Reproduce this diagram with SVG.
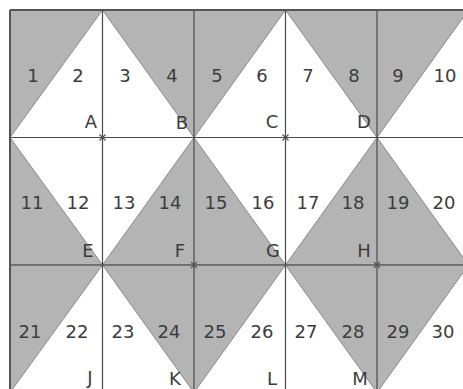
<svg xmlns="http://www.w3.org/2000/svg" width="463" height="389" viewBox="0 0 463 389">
<style>
.sh{fill:#b4b4b4;stroke:#8a8a8a;stroke-width:1}
.gl{stroke:#4a4a4a;stroke-width:1.2;fill:none}
.fr{stroke:#555;stroke-width:2;fill:none}
.n{font-family:"DejaVu Sans",sans-serif;font-size:18px;fill:#3c3c3c;text-anchor:middle}
.mk{stroke:#555;stroke-width:1.2}
</style>
<rect width="463" height="389" fill="#fff"/>
<g id="shading">
<polygon class="sh" points="10,10 102.5,10 10,137.5"/>
<polygon class="sh" points="102.5,10 285.5,10 194,137.5"/>
<polygon class="sh" points="285.5,10 468.5,10 377,137.5"/>
<polygon class="sh" points="10,137.5 102.5,265 10,265"/>
<polygon class="sh" points="194,137.5 102.5,265 285.5,265"/>
<polygon class="sh" points="377,137.5 285.5,265 468.5,265"/>
<polygon class="sh" points="10,265 102.5,265 10,392.5"/>
<polygon class="sh" points="102.5,265 285.5,265 194,392.5"/>
<polygon class="sh" points="285.5,265 468.5,265 377,392.5"/>
</g>
<g id="grid">
<line class="gl" x1="102.5" y1="10" x2="102.5" y2="392"/>
<line class="gl" x1="194" y1="10" x2="194" y2="392"/>
<line class="gl" x1="285.5" y1="10" x2="285.5" y2="392"/>
<line class="gl" x1="377" y1="10" x2="377" y2="392"/>
<line class="gl" x1="10" y1="137.5" x2="463" y2="137.5"/>
<line class="gl" x1="10" y1="265" x2="463" y2="265"/>
<line class="fr" x1="10" y1="10" x2="463" y2="10"/>
<line class="fr" x1="10" y1="10" x2="10" y2="392"/>
</g>
<g id="marks">
<path class="mk" d="M99.5,134.5 l6,6 M105.5,134.5 l-6,6"/>
<path class="mk" d="M282.5,134.5 l6,6 M288.5,134.5 l-6,6"/>
<path class="mk" d="M191,262 l6,6 M197,262 l-6,6"/>
<path class="mk" d="M374,262 l6,6 M380,262 l-6,6"/>
</g>
<g id="numbers">
<text class="n" x="33" y="82">1</text>
<text class="n" x="78" y="82">2</text>
<text class="n" x="125" y="82">3</text>
<text class="n" x="172" y="82">4</text>
<text class="n" x="217" y="82">5</text>
<text class="n" x="262" y="82">6</text>
<text class="n" x="308" y="82">7</text>
<text class="n" x="354" y="82">8</text>
<text class="n" x="398" y="82">9</text>
<text class="n" x="445" y="82">10</text>
<text class="n" x="32" y="209">11</text>
<text class="n" x="78" y="209">12</text>
<text class="n" x="124" y="209">13</text>
<text class="n" x="170" y="209">14</text>
<text class="n" x="216" y="209">15</text>
<text class="n" x="263" y="209">16</text>
<text class="n" x="308" y="209">17</text>
<text class="n" x="353" y="209">18</text>
<text class="n" x="398" y="209">19</text>
<text class="n" x="444" y="209">20</text>
<text class="n" x="30" y="338">21</text>
<text class="n" x="77" y="338">22</text>
<text class="n" x="123" y="338">23</text>
<text class="n" x="169" y="338">24</text>
<text class="n" x="215" y="338">25</text>
<text class="n" x="262" y="338">26</text>
<text class="n" x="306" y="338">27</text>
<text class="n" x="353" y="338">28</text>
<text class="n" x="398" y="338">29</text>
<text class="n" x="443" y="338">30</text>
</g>
<g id="letters">
<text class="n" x="91" y="128">A</text>
<text class="n" x="182" y="129">B</text>
<text class="n" x="272" y="128">C</text>
<text class="n" x="364" y="128">D</text>
<text class="n" x="88" y="257">E</text>
<text class="n" x="180" y="257">F</text>
<text class="n" x="273" y="257">G</text>
<text class="n" x="364" y="257">H</text>
<text class="n" x="90" y="384">J</text>
<text class="n" x="175" y="385">K</text>
<text class="n" x="272" y="385">L</text>
<text class="n" x="360" y="385">M</text>
</g>
</svg>
